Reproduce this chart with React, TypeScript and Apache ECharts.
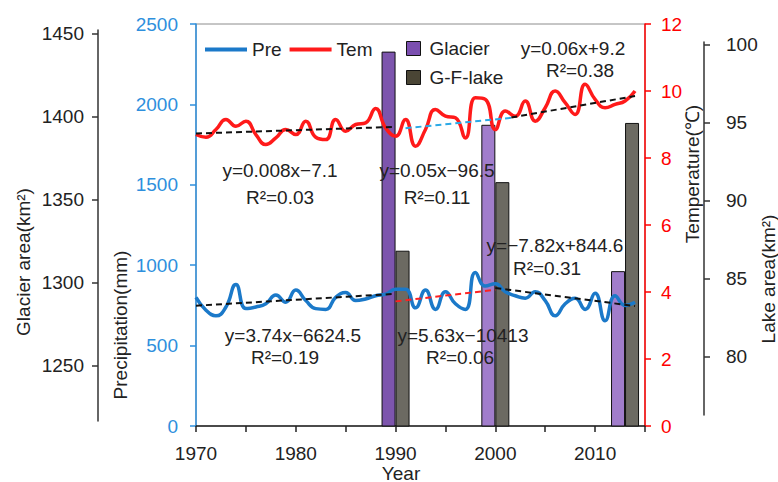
import React, { useEffect, useRef } from "react";
import * as echarts from "echarts";

const FONT = "'Liberation Sans', Arial, sans-serif";

const years = [
  1970, 1971, 1972, 1973, 1974, 1975, 1976, 1977, 1978, 1979,
  1980, 1981, 1982, 1983, 1984, 1985, 1986, 1987, 1988, 1989,
  1990, 1991, 1992, 1993, 1994, 1995, 1996, 1997, 1998, 1999,
  2000, 2001, 2002, 2003, 2004, 2005, 2006, 2007, 2008, 2009,
  2010, 2011, 2012, 2013, 2014,
];
const pre = [
  800, 720, 685, 740, 880, 730, 740, 760, 815, 770,
  845, 780, 730, 725, 800, 830, 780, 790, 810, 820,
  850, 850, 735, 845, 725, 835, 760, 725, 955, 870,
  885, 835, 810, 795, 835, 780, 685, 760, 795, 725,
  825, 655, 810, 750, 770,
];
const tem = [
  8.7, 8.62, 8.85, 9.15, 8.95, 9.1, 8.7, 8.4, 8.6, 8.85,
  8.7, 9.1, 8.62, 8.55, 9.15, 8.8, 9.0, 9.05, 9.48, 8.9,
  8.65, 9.15, 8.35, 8.85, 9.45, 9.25, 9.2, 8.6, 9.8, 9.75,
  8.85, 9.4, 9.25, 9.7, 9.1, 9.5, 10.0, 9.65, 9.3, 10.2,
  9.75, 9.5, 9.6, 9.7, 10.0,
];
const barYears = [1990, 2000, 2013];
const glacierArea = [1439, 1395, 1307];
const lakeArea = [86.8, 91.2, 95.0];

const temTrend1 = [[1970, 8.73], [1990, 8.93]];
const temTrend2 = [[1991, 8.89], [2001.6, 9.2]];
const temTrend3 = [[2001.6, 9.21], [2014, 9.85]];
const preTrend1 = [[1970, 748], [1990, 822]];
const preTrend2 = [[1990, 775], [2000, 847]];
const preTrend3 = [[2000, 858], [2014, 746]];

const xLabelYears = [1970, 1980, 1990, 2000, 2010];
const glacierTicks = [1250, 1300, 1350, 1400, 1450];
const lakeTicks = [80, 85, 90, 95, 100];

const annotations = [
  { text: "y=0.008x\u22127.1", x: 280, y: 170 },
  { text: "R\u00b2=0.03", x: 280, y: 197 },
  { text: "y=0.05x\u221296.5", x: 437, y: 170 },
  { text: "R\u00b2=0.11", x: 437, y: 197 },
  { text: "y=0.06x+9.2", x: 573, y: 48 },
  { text: "R\u00b2=0.38", x: 580, y: 70 },
  { text: "y=3.74x\u22126624.5", x: 293, y: 335 },
  { text: "R\u00b2=0.19", x: 285, y: 357 },
  { text: "y=5.63x\u221210413", x: 463, y: 335 },
  { text: "R\u00b2=0.06", x: 460, y: 357 },
  { text: "y=\u22127.82x+844.6", x: 555, y: 245 },
  { text: "R\u00b2=0.31", x: 547, y: 268 },
];

const axisNames = [
  { text: "Glacier area(km\u00b2)", x: 23, y: 262, rot: true },
  { text: "Precipitation(mm)", x: 120, y: 325, rot: true },
  { text: "Temperature(\u2103)", x: 692, y: 174, rot: true },
  { text: "Lake area(km\u00b2)", x: 768, y: 279, rot: true },
  { text: "Year", x: 401, y: 473, rot: false },
];

const PRE_COLOR = "#1b79c9";
const TEM_COLOR = "#ff1a1a";
const PRE_AXIS = "#2e8fdd";
const TXT = "#222222";
const plain = (v: number) => String(v);

function trend(name: string, data: number[][], yAxisIndex: number, color: string) {
  return {
    name,
    type: "line",
    xAxisIndex: 0,
    yAxisIndex,
    data,
    symbol: "none",
    showSymbol: false,
    silent: true,
    lineStyle: { color, width: 2, type: [6, 4] },
    z: 5,
  };
}

export default function App() {
  const ref = useRef<HTMLDivElement>(null);
  useEffect(() => {
    if (!ref.current) return;
    const chart = echarts.init(ref.current, undefined, { renderer: "svg" });
    const option: any = {
      animation: false,
      textStyle: { fontFamily: FONT },
      grid: [
        { left: 196, top: 24, width: 449, height: 402, show: true, borderColor: "#8c8c8c", borderWidth: 1, backgroundColor: "transparent" },
        { left: 98, top: 30, width: 10, height: 391 },
        { left: 704, top: 42, width: 10, height: 373 },
      ],
      legend: [
        {
          data: ["Pre", "Tem"],
          left: 205,
          top: 40,
          padding: 0,
          icon: "rect",
          itemWidth: 42,
          itemHeight: 4,
          itemGap: 8,
          textStyle: { fontSize: 19, color: TXT, fontFamily: FONT },
        },
        {
          data: [
            { name: "Glacier", itemStyle: { color: "#7b4fb0", borderColor: "#111", borderWidth: 1 } },
            { name: "G-F-lake", itemStyle: { color: "#4a4535", borderColor: "#111", borderWidth: 1 } },
          ],
          orient: "vertical",
          left: 406,
          top: 39,
          padding: 0,
          icon: "rect",
          itemWidth: 14,
          itemHeight: 14,
          itemGap: 10,
          textStyle: { fontSize: 19, color: TXT, fontFamily: FONT, padding: [0, 0, 0, 4] },
        },
      ],
      xAxis: [
        {
          type: "value",
          gridIndex: 0,
          min: 1970,
          max: 2015,
          interval: 5,
          axisLine: { lineStyle: { color: TXT, width: 1.5 } },
          axisTick: { length: 6, lineStyle: { color: TXT, width: 1.5 } },
          axisLabel: {
            fontSize: 19,
            color: TXT,
            margin: 18,
            formatter: (v: number) => (xLabelYears.indexOf(v) >= 0 ? String(v) : ""),
          },
          splitLine: { show: false },
        },
        { type: "value", gridIndex: 1, show: false, min: 0, max: 1 },
        { type: "value", gridIndex: 2, show: false, min: 0, max: 1 },
      ],
      yAxis: [
        {
          type: "value",
          gridIndex: 0,
          position: "left",
          min: 0,
          max: 2500,
          interval: 500,
          axisLine: { show: true, lineStyle: { color: PRE_AXIS, width: 1.5 } },
          axisTick: { show: true, length: 6, lineStyle: { color: PRE_AXIS, width: 1.5 } },
          axisLabel: { color: PRE_AXIS, fontSize: 19, margin: 18, formatter: plain },
          splitLine: { show: false },
        },
        {
          type: "value",
          gridIndex: 0,
          position: "right",
          min: 0,
          max: 12,
          interval: 2,
          axisLine: { show: true, lineStyle: { color: "#ff0000", width: 1.5 } },
          axisTick: { show: true, length: 6, lineStyle: { color: "#ff0000", width: 1.5 } },
          axisLabel: { color: "#ff0000", fontSize: 19, margin: 16, formatter: plain },
          splitLine: { show: false },
        },
        { type: "value", gridIndex: 0, show: false, min: 1213.9, max: 1455.6 },
        { type: "value", gridIndex: 0, show: false, min: 75.55, max: 101.35 },
        {
          type: "value",
          gridIndex: 1,
          position: "left",
          min: 1216.75,
          max: 1452,
          axisLine: { show: true, lineStyle: { color: "#333", width: 1.5 } },
          axisTick: { show: true, length: 6, customValues: glacierTicks, lineStyle: { color: "#333", width: 1.5 } },
          axisLabel: { color: TXT, fontSize: 19, margin: 14, customValues: glacierTicks, formatter: plain },
          splitLine: { show: false },
        },
        {
          type: "value",
          gridIndex: 2,
          position: "right",
          min: 76.26,
          max: 100.19,
          axisLine: { show: true, lineStyle: { color: "#333", width: 1.5 } },
          axisTick: { show: true, length: 6, customValues: lakeTicks, lineStyle: { color: "#333", width: 1.5 } },
          axisLabel: { color: TXT, fontSize: 19, margin: 12, customValues: lakeTicks, formatter: plain },
          splitLine: { show: false },
        },
      ],
      series: [
        {
          name: "Glacier",
          type: "bar",
          xAxisIndex: 0,
          yAxisIndex: 2,
          clip: true,
          barWidth: 14,
          barGap: "0%",
          itemStyle: { color: "#8a62b8", borderColor: "#111", borderWidth: 1 },
          data: barYears.map((y, i) => ({
            value: [y, glacierArea[i]],
            itemStyle: { color: i === 0 ? "#7d55ad" : "#a17dcb" },
          })),
          z: 2,
        },
        {
          name: "G-F-lake",
          type: "bar",
          xAxisIndex: 0,
          yAxisIndex: 3,
          clip: true,
          barWidth: 14,
          barGap: "0%",
          itemStyle: { color: "#6c6a62", borderColor: "#111", borderWidth: 1 },
          data: barYears.map((y, i) => [y, lakeArea[i]]),
          z: 2,
        },
        {
          name: "Pre",
          type: "line",
          xAxisIndex: 0,
          yAxisIndex: 0,
          smooth: 0.5,
          symbol: "none",
          showSymbol: false,
          lineStyle: { color: PRE_COLOR, width: 3.5 },
          itemStyle: { color: PRE_COLOR },
          data: years.map((y, i) => [y, pre[i]]),
          z: 4,
        },
        {
          name: "Tem",
          type: "line",
          xAxisIndex: 0,
          yAxisIndex: 1,
          smooth: 0.5,
          symbol: "none",
          showSymbol: false,
          lineStyle: { color: TEM_COLOR, width: 3.5 },
          itemStyle: { color: TEM_COLOR },
          data: years.map((y, i) => [y, tem[i]]),
          z: 4,
        },
        trend("temTrend1", temTrend1, 1, "#111"),
        trend("temTrend2", temTrend2, 1, "#2aa9e6"),
        trend("temTrend3", temTrend3, 1, "#111"),
        trend("preTrend1", preTrend1, 0, "#111"),
        trend("preTrend2", preTrend2, 0, "#ff2020"),
        trend("preTrend3", preTrend3, 0, "#111"),
      ],
      graphic: [
        ...annotations.map((a) => ({
          type: "text",
          x: a.x,
          y: a.y,
          z: 100,
          silent: true,
          style: { text: a.text, fontSize: 19, fontFamily: FONT, fill: TXT, textAlign: "center", textVerticalAlign: "middle" },
        })),
        ...axisNames.map((a) => ({
          type: "text",
          x: a.x,
          y: a.y,
          rotation: a.rot ? Math.PI / 2 : 0,
          z: 100,
          silent: true,
          style: { text: a.text, fontSize: 19, fontFamily: FONT, fill: TXT, textAlign: "center", textVerticalAlign: "middle" },
        })),
      ],
    };
    chart.setOption(option);
    return () => chart.dispose();
  }, []);
  return <div ref={ref} style={{ width: 778, height: 482, position: "absolute", left: 0, top: 0 }} />;
}
